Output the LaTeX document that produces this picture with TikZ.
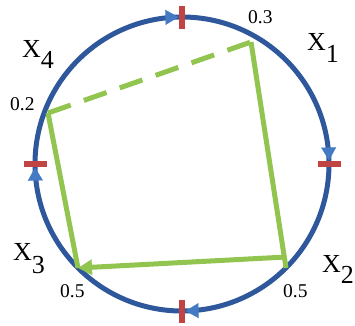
\documentclass[tikz,border=0pt]{standalone}
\usepackage{fontspec}
\setmainfont{Liberation Serif}
\usetikzlibrary{arrows.meta,calc}
\definecolor{ringblue}{RGB}{46,88,155}
\definecolor{flowblue}{RGB}{68,121,196}
\definecolor{sidegreen}{RGB}{146,197,79}
\definecolor{tickred}{RGB}{192,68,68}

\begin{document}
\begin{tikzpicture}[
  x=1pt, y=1pt,
  ring/.style={draw=ringblue, line width=5pt},
  redtick/.style={draw=tickred, line width=6pt},
  flow/.style={draw=flowblue, line width=0.1pt,
               -{Triangle[length=13pt,width=15pt]}},
  side/.style={draw=sidegreen, line width=5pt},
  arr/.style={side, -{Triangle[length=14pt,width=15pt]}},
  dside/.style={side, dash pattern=on 24pt off 14pt},
  lbl/.style={font=\fontsize{26}{30}\selectfont, inner sep=0pt,
              anchor=base west},
  num/.style={font=\fontsize{19.5}{23}\selectfont, inner sep=0pt,
              anchor=base west}
]
\useasboundingbox (0,0) rectangle (355,325);
\coordinate (c) at (182,161);
\draw[ring] (c) circle (147);
% ticks and flow arrows
\foreach \a in {0,90,180,270}{
  \draw[redtick] ($(c)+(\a:135.5)$) -- ($(c)+(\a:158.5)$);
  \draw[flow] ($(c)+(\a+9:147)$) arc (\a+9:\a+1.4:147);
}
% corner points
\coordinate (X1) at (251,283);
\coordinate (X2) at (286,57);
\coordinate (X3) at (78,57);
\coordinate (X4) at (48,212);
\draw[dside] (X4) -- (X1);
\draw[side] (X1) -- (X2);
\draw[arr] ([yshift=11pt]X2) -- (X3);
\draw[side] (X3) -- (X4);
% labels
\node[num] (n1) at (248,302) {0.3};
\node[lbl] (l1) at (307,275) {X\raisebox{-12pt}{1}};
\node[lbl] (l4) at (22,268) {X\raisebox{-11pt}{4}};
\node[num] (n4) at (10,215) {0.2};
\node[lbl] (l3) at (13,65) {X\raisebox{-13pt}{3}};
\node[num] (n3) at (60,28) {0.5};
\node[lbl] (l2) at (322,53) {X\raisebox{-11pt}{2}};
\node[num] (n2) at (283,28) {0.5};
\end{tikzpicture}
\end{document}
